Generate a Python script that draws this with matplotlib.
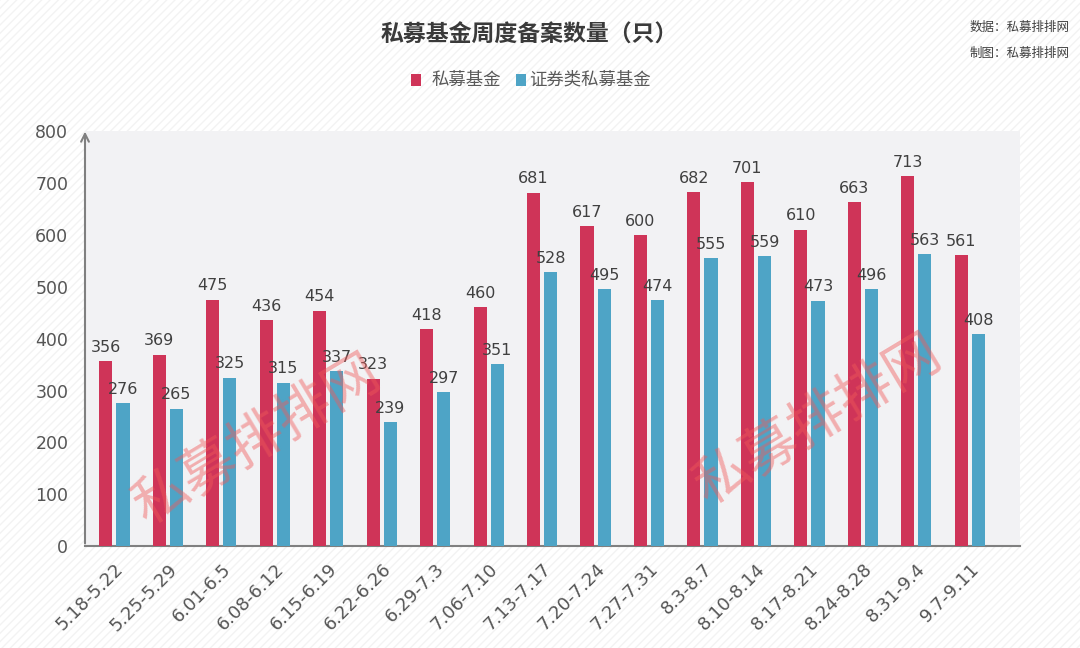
import numpy as np
import matplotlib
matplotlib.use("Agg")
import matplotlib.pyplot as plt
from matplotlib.patches import Rectangle

plt.rcParams['font.family'] = ['Noto Sans CJK SC', 'DejaVu Sans']

# weekly filing data
weeks = ['5.18-5.22', '5.25-5.29', '6.01-6.5', '6.08-6.12', '6.15-6.19', '6.22-6.26',
         '6.29-7.3', '7.06-7.10', '7.13-7.17', '7.20-7.24', '7.27-7.31', '8.3-8.7',
         '8.10-8.14', '8.17-8.21', '8.24-8.28', '8.31-9.4', '9.7-9.11']
private_funds = [356, 369, 475, 436, 454, 323, 418, 460, 681, 617, 600, 682, 701, 610, 663, 713, 561]
securities_funds = [276, 265, 325, 315, 337, 239, 297, 351, 528, 495, 474, 555, 559, 473, 496, 563, 408]
yticks = [0, 100, 200, 300, 400, 500, 600, 700, 800]

red = '#cf3458'
blue = '#4ea4c6'
txt = '#404040'

fig = plt.figure(figsize=(10.8, 6.48), dpi=100)
fig.patch.set_facecolor('white')

# faint diagonal stripes behind everything
bg = Rectangle((0, 0), 1, 1, transform=fig.transFigure, facecolor='white',
               edgecolor='#f3f3f3', hatch='////', linewidth=0, zorder=-10)
fig.patches.append(bg)

ax = fig.add_axes([0.0787, 0.157, 0.8653, 0.641])
ax.set_facecolor('#f2f2f4')

x = np.arange(len(weeks))
w = 0.245
off = 0.16
ax.bar(x - off, private_funds, width=w, color=red, zorder=3)
ax.bar(x + off, securities_funds, width=w, color=blue, zorder=3)

for xi, v in zip(x, private_funds):
    ax.text(xi - off, v + 12, str(v), ha='center', va='bottom', fontsize=11.5, color=txt,
            family='DejaVu Sans', zorder=5)
for xi, v in zip(x, securities_funds):
    ax.text(xi + off, v + 12, str(v), ha='center', va='bottom', fontsize=11.5, color=txt,
            family='DejaVu Sans', zorder=5)

ax.set_xlim(-0.55, 16.93)
ax.set_ylim(0, 800)
ax.set_yticks(yticks)
ax.set_yticklabels([str(t) for t in yticks], fontsize=12.5, color='#555555', family='DejaVu Sans')
ax.set_xticks(x)
ax.set_xticklabels(weeks, rotation=45, ha='right', rotation_mode='anchor',
                   fontsize=13, color='#555555', family='DejaVu Sans')
ax.tick_params(axis='y', length=0, pad=12)
ax.tick_params(axis='x', length=0, pad=10)

for s in ['top', 'right', 'left']:
    ax.spines[s].set_visible(False)
ax.spines['bottom'].set_color('#808080')
ax.spines['bottom'].set_linewidth(1.5)

# y axis with arrow head
ax.annotate('', xy=(0, 1.005), xytext=(0, 0), xycoords='axes fraction',
            arrowprops=dict(arrowstyle='->', color='#808080', lw=1.5, mutation_scale=14),
            annotation_clip=False, zorder=6)

# watermarks
fig.text(257 / 1080, 1 - 440 / 648, '私募排排网', fontsize=40, color='#f05a5a', alpha=0.45,
         rotation=31, ha='center', va='center', zorder=10)
fig.text(818 / 1080, 1 - 420 / 648, '私募排排网', fontsize=40, color='#f05a5a', alpha=0.45,
         rotation=31, ha='center', va='center', zorder=10)

# title and source notes
fig.text(0.49, 1 - 35 / 648, '私募基金周度备案数量（只）', fontsize=16.5, fontweight='bold',
         color='#3a3a3a', ha='center', va='center')
fig.text(0.99, 1 - 27 / 648, '数据：私募排排网', fontsize=9, color='#404040', ha='right', va='center')
fig.text(0.99, 1 - 53 / 648, '制图：私募排排网', fontsize=9, color='#404040', ha='right', va='center')

# legend
fig.patches.append(Rectangle((411 / 1080, 1 - 86 / 648), 10 / 1080, 12 / 648,
                             transform=fig.transFigure, facecolor=red, edgecolor='none'))
fig.text(432 / 1080, 1 - 80 / 648, '私募基金', fontsize=12.5, color='#595959', va='center')
fig.patches.append(Rectangle((516 / 1080, 1 - 86 / 648), 10 / 1080, 12 / 648,
                             transform=fig.transFigure, facecolor=blue, edgecolor='none'))
fig.text(529 / 1080, 1 - 80 / 648, '证券类私募基金', fontsize=12.5, color='#595959', va='center')

fig.savefig('out.png', dpi=100, facecolor=fig.get_facecolor())
